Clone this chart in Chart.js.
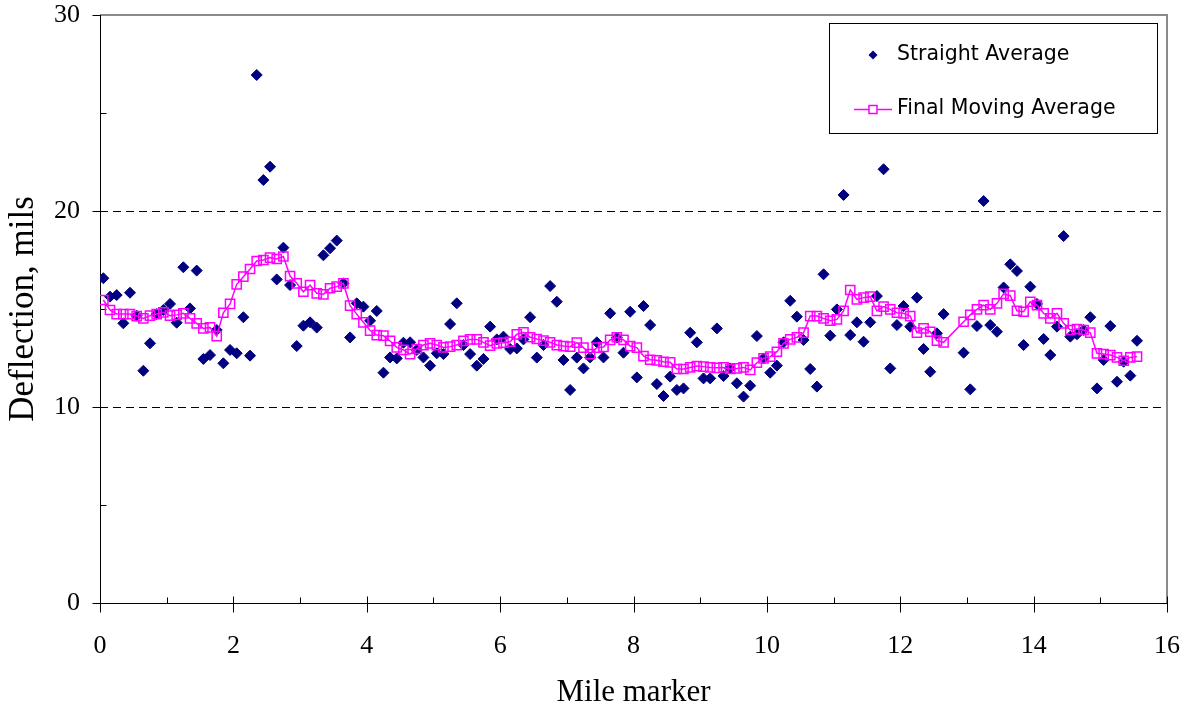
<!DOCTYPE html>
<html>
<head>
<meta charset="utf-8">
<script src="https://cdn.jsdelivr.net/npm/chart.js"></script>
<style>
  html, body { margin: 0; padding: 0; background: #fff; }
  #wrap { width: 1189px; height: 713px; }
</style>
</head>
<body>
<div id="wrap"><canvas id="deflChart" width="1189" height="713"></canvas></div>
<script>
// mile marker of each test point (no readings between 12.65 and 12.95)
const miles = [
  0.05, 0.15, 0.25, 0.35, 0.45, 0.55, 0.65, 0.75, 0.85, 0.95,
  1.05, 1.15, 1.25, 1.35, 1.45, 1.55, 1.65, 1.75, 1.85, 1.95,
  2.05, 2.15, 2.25, 2.35, 2.45, 2.55, 2.65, 2.75, 2.85, 2.95,
  3.05, 3.15, 3.25, 3.35, 3.45, 3.55, 3.65, 3.75, 3.85, 3.95,
  4.05, 4.15, 4.25, 4.35, 4.45, 4.55, 4.65, 4.75, 4.85, 4.95,
  5.05, 5.15, 5.25, 5.35, 5.45, 5.55, 5.65, 5.75, 5.85, 5.95,
  6.05, 6.15, 6.25, 6.35, 6.45, 6.55, 6.65, 6.75, 6.85, 6.95,
  7.05, 7.15, 7.25, 7.35, 7.45, 7.55, 7.65, 7.75, 7.85, 7.95,
  8.05, 8.15, 8.25, 8.35, 8.45, 8.55, 8.65, 8.75, 8.85, 8.95,
  9.05, 9.15, 9.25, 9.35, 9.45, 9.55, 9.65, 9.75, 9.85, 9.95,
  10.05, 10.15, 10.25, 10.35, 10.45, 10.55, 10.65, 10.75, 10.85, 10.95,
  11.05, 11.15, 11.25, 11.35, 11.45, 11.55, 11.65, 11.75, 11.85, 11.95,
  12.05, 12.15, 12.25, 12.35, 12.45, 12.55, 12.65,
  12.95, 13.05, 13.15, 13.25, 13.35, 13.45, 13.55, 13.65, 13.75, 13.85, 13.95,
  14.05, 14.15, 14.25, 14.35, 14.45, 14.55, 14.65, 14.75, 14.85, 14.95,
  15.05, 15.15, 15.25, 15.35, 15.45, 15.55
];

const straightAvg = [
  16.57, 15.63, 15.71, 14.27, 15.83, 14.66, 11.85, 13.25, 14.74, 14.95,
  15.26, 14.30, 17.13, 15.03, 16.96, 12.45, 12.65, 13.93, 12.23, 12.91,
  12.74, 14.58, 12.62, 26.94, 21.58, 22.26, 16.51, 18.13, 16.22, 13.11,
  14.15, 14.32, 14.05, 17.74, 18.10, 18.49, 16.31, 13.55, 15.29, 15.12,
  14.40, 14.90, 11.75, 12.53, 12.48, 13.28, 13.30, 12.91, 12.53, 12.11,
  12.74, 12.70, 14.23, 15.29, 13.16, 12.70, 12.11, 12.45, 14.10, 13.45,
  13.59, 12.96, 12.99, 13.45, 14.58, 12.52, 13.16, 16.17, 15.37, 12.40,
  10.87, 12.52, 11.97, 12.53, 13.30, 12.53, 14.78, 13.54, 12.77, 14.86,
  11.51, 15.15, 14.18, 11.17, 10.56, 11.55, 10.87, 10.95, 13.79, 13.30,
  11.46, 11.46, 14.01, 11.58, 11.97, 11.21, 10.53, 11.09, 13.62, 12.48,
  11.75, 12.11, 13.30, 15.42, 14.61, 13.42, 11.94, 11.04, 16.77, 13.64,
  14.98, 20.82, 13.67, 14.32, 13.33, 14.32, 15.66, 22.13, 11.97, 14.18,
  15.15, 14.10, 15.58, 12.96, 11.80, 13.76, 14.74,
  12.77, 10.90, 14.13, 20.51, 14.18, 13.84, 16.10, 17.28, 16.94, 13.16, 16.14,
  15.26, 13.47, 12.65, 14.10, 18.72, 13.59, 13.71, 13.93, 14.58, 10.95,
  12.40, 14.13, 11.29, 12.31, 11.60, 13.38
];

const movingAvg = [
  15.46, 14.95, 14.74, 14.74, 14.74, 14.64, 14.52, 14.66, 14.74, 14.83,
  14.66, 14.70, 14.78, 14.52, 14.27, 14.01, 14.06, 13.62, 14.81, 15.26,
  16.26, 16.65, 17.04, 17.45, 17.50, 17.62, 17.55, 17.68, 16.68, 16.31,
  15.88, 16.22, 15.80, 15.75, 16.06, 16.14, 16.31, 15.17, 14.74, 14.32,
  13.90, 13.67, 13.64, 13.37, 13.04, 12.91, 12.70, 12.96, 13.16, 13.25,
  13.16, 13.04, 13.08, 13.16, 13.37, 13.45, 13.45, 13.30, 13.13, 13.25,
  13.28, 13.33, 13.71, 13.81, 13.56, 13.47, 13.39, 13.30, 13.16, 13.11,
  13.08, 13.28, 13.03, 12.70, 13.03, 13.06, 13.42, 13.56, 13.42, 13.11,
  13.03, 12.60, 12.41, 12.38, 12.31, 12.28, 11.94, 11.94, 12.02, 12.09,
  12.06, 12.02, 12.00, 12.02, 11.94, 11.97, 12.02, 11.89, 12.26, 12.48,
  12.57, 12.82, 13.25, 13.45, 13.55, 13.79, 14.64, 14.64, 14.52, 14.40,
  14.47, 14.90, 15.97, 15.49, 15.58, 15.63, 14.90, 15.12, 14.98, 14.81,
  14.78, 14.64, 13.79, 14.01, 13.84, 13.39, 13.30,
  14.35, 14.70, 14.98, 15.20, 14.98, 15.29, 15.77, 15.68, 14.91, 14.86, 15.37,
  15.20, 14.78, 14.52, 14.78, 14.27, 13.93, 13.98, 13.93, 13.79, 12.74,
  12.70, 12.65, 12.53, 12.36, 12.53, 12.57
];

const seriesNames = ['Straight Average', 'Final Moving Average'];
const yMajorTicks = [0, 10, 20, 30];
const yMinorTicks = [5, 15, 25];
const yDashedGrid = [10, 20];
const xMajorTicks = [0, 2, 4, 6, 8, 10, 12, 14, 16];
const xMinorTicks = [1, 3, 5, 7, 9, 11, 13, 15];

const NAVY = '#000080';
const MAGENTA = '#FF00FF';

// axes, ticks, dashed grid and plot frame, drawn on the library's scales
const frameLines = {
  id: 'frameLines',
  beforeDatasetsDraw(chart) {
    const { ctx, chartArea: a, scales: { x, y } } = chart;
    ctx.save();
    ctx.lineWidth = 1;
    ctx.strokeStyle = '#000';
    ctx.setLineDash([8, 5]);
    yDashedGrid.forEach(v => {
      const py = Math.round(y.getPixelForValue(v)) + 0.5;
      ctx.beginPath(); ctx.moveTo(a.left, py); ctx.lineTo(a.right, py); ctx.stroke();
    });
    ctx.setLineDash([]);

    // plot frame (top + right)
    ctx.strokeStyle = '#8a8a8a';
    ctx.lineWidth = 2;
    ctx.beginPath();
    ctx.moveTo(a.left, a.top); ctx.lineTo(a.right, a.top); ctx.lineTo(a.right, a.bottom);
    ctx.stroke();

    // axis lines
    ctx.strokeStyle = '#000';
    ctx.lineWidth = 1;
    const ax = Math.round(a.left) + 0.5, ay = Math.round(a.bottom) + 0.5;
    ctx.beginPath();
    ctx.moveTo(ax, a.top); ctx.lineTo(ax, ay); ctx.lineTo(a.right, ay);
    ctx.stroke();

    ctx.beginPath();
    yMajorTicks.forEach(v => {
      const py = Math.round(y.getPixelForValue(v)) + 0.5;
      ctx.moveTo(ax - 8, py); ctx.lineTo(ax, py);
    });
    yMinorTicks.forEach(v => {
      const py = Math.round(y.getPixelForValue(v)) + 0.5;
      ctx.moveTo(ax, py); ctx.lineTo(ax + 6, py);
    });
    xMajorTicks.forEach(v => {
      const px = Math.round(x.getPixelForValue(v)) + 0.5;
      ctx.moveTo(px, ay - 7); ctx.lineTo(px, ay + 9);
    });
    xMinorTicks.forEach(v => {
      const px = Math.round(x.getPixelForValue(v)) + 0.5;
      ctx.moveTo(px, ay - 6); ctx.lineTo(px, ay);
    });
    ctx.stroke();
    ctx.restore();
  }
};

// boxed legend in the upper right of the plot
const boxLegend = {
  id: 'boxLegend',
  afterDraw(chart) {
    const { ctx, chartArea: a } = chart;
    const bx = a.right - 338, by = a.top + 8, bw = 328, bh = 110;
    ctx.save();
    ctx.fillStyle = '#fff';
    ctx.fillRect(bx, by, bw, bh);
    ctx.strokeStyle = '#000';
    ctx.lineWidth = 1;
    ctx.strokeRect(bx + 0.5, by + 0.5, bw, bh);

    const mx = bx + 44, tx = bx + 68;
    const y1 = by + 32, y2 = by + 86;
    ctx.fillStyle = NAVY;
    ctx.beginPath();
    ctx.moveTo(mx - 4.5, y1); ctx.lineTo(mx, y1 - 4.5); ctx.lineTo(mx + 4.5, y1); ctx.lineTo(mx, y1 + 4.5);
    ctx.closePath(); ctx.fill();

    ctx.strokeStyle = MAGENTA;
    ctx.lineWidth = 1.5;
    ctx.beginPath(); ctx.moveTo(mx - 19, y2 + 0.5); ctx.lineTo(mx + 19, y2 + 0.5); ctx.stroke();
    ctx.fillStyle = '#fff';
    ctx.fillRect(mx - 4, y2 - 3.5, 8, 8);
    ctx.strokeRect(mx - 4, y2 - 3.5, 8, 8);

    ctx.fillStyle = '#000';
    ctx.font = '20.5px "DejaVu Sans"';
    ctx.textBaseline = 'middle';
    ctx.textAlign = 'left';
    ctx.fillText(seriesNames[0], tx, y1);
    ctx.fillText(seriesNames[1], tx, y2);
    ctx.restore();
  }
};

const tickFont = { family: 'Liberation Serif', size: 26, lineHeight: 1.1 };

// fixed axis bands; drop the label overhang padding so the plot box stays put
function noOverhang(s) {
  s.paddingTop = 0; s.paddingBottom = 0; s.paddingLeft = 0; s.paddingRight = 0;
}

new Chart(document.getElementById('deflChart'), {
  type: 'scatter',
  data: {
    datasets: [
      {
        label: seriesNames[1],
        data: miles.map((m, i) => ({ x: m, y: movingAvg[i] })),
        showLine: true,
        borderColor: MAGENTA,
        borderWidth: 1.5,
        tension: 0,
        pointStyle: 'rect',
        pointRadius: 6.5,
        pointBorderWidth: 1.5,
        pointBorderColor: MAGENTA,
        pointBackgroundColor: 'rgba(255,255,255,0)'
      },
      {
        label: seriesNames[0],
        data: miles.map((m, i) => ({ x: m, y: straightAvg[i] })),
        showLine: false,
        pointStyle: 'rectRot',
        pointRadius: 5.5,
        pointBorderWidth: 1,
        pointBorderColor: NAVY,
        pointBackgroundColor: NAVY
      }
    ]
  },
  options: {
    responsive: false,
    animation: false,
    layout: { padding: { top: 15, right: 22, left: 0, bottom: 0 } },
    plugins: { legend: { display: false }, tooltip: { enabled: false } },
    scales: {
      x: {
        type: 'linear', min: 0, max: 16,
        ticks: { stepSize: 2, color: '#000', font: tickFont, padding: 29, maxRotation: 0 },
        grid: { display: false, drawTicks: false },
        border: { display: false },
        title: { display: true, text: 'Mile marker', color: '#000',
                 font: { family: 'Liberation Serif', size: 31 }, padding: 2 },
        afterFit(s) { s.height = 110; noOverhang(s); }
      },
      y: {
        min: 0, max: 30,
        ticks: { stepSize: 10, color: '#000', font: tickFont, padding: 20 },
        grid: { display: false, drawTicks: false },
        border: { display: false },
        title: { display: true, text: 'Deflection, mils', color: '#000',
                 font: { family: 'Liberation Serif', size: 35 }, padding: 3 },
        afterFit(s) { s.width = 100; noOverhang(s); }
      }
    }
  },
  plugins: [frameLines, boxLegend]
});
</script>
</body>
</html>
